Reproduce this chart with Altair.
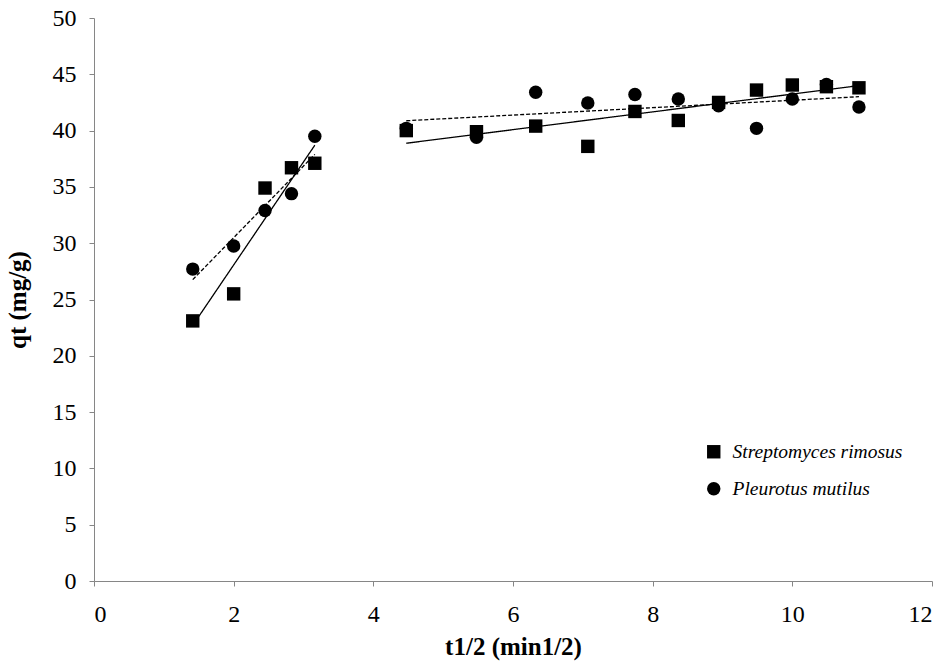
import altair as alt
import pandas as pd

# sqrt(t) values (min^1/2)
x_vals = [1.414, 2.0, 2.449, 2.828, 3.162, 4.472, 5.477, 6.325, 7.071, 7.746,
          8.367, 8.944, 9.487, 10.0, 10.488, 10.954]
phase = [1, 1, 1, 1, 1, 2, 2, 2, 2, 2, 2, 2, 2, 2, 2, 2]
strepto = [23.1, 25.5, 34.9, 36.7, 37.1, 40.0, 39.9, 40.4, 38.6, 41.7,
           40.9, 42.5, 43.6, 44.05, 43.9, 43.8]
pleuro = [27.7, 29.75, 32.9, 34.4, 39.5, 40.2, 39.4, 43.4, 42.45, 43.2,
          42.8, 42.2, 40.2, 42.8, 44.1, 42.1]
series_names = ["Streptomyces rimosus", "Pleurotus mutilus"]

rows = []
for name, vals in zip(series_names, [strepto, pleuro]):
    for x, p, y in zip(x_vals, phase, vals):
        rows.append({"x": x, "y": y, "series": name, "phase": p})
df = pd.DataFrame(rows)

FONT = "Liberation Serif"
axis_common = dict(
    grid=False, domainColor="#868686", tickColor="#868686", tickSize=5,
    labelFont=FONT, labelFontSize=24, labelColor="black",
    titleFont=FONT, titleFontSize=25, titleFontWeight="bold", titleColor="black",
)

xs = alt.X("x:Q", scale=alt.Scale(domain=[0, 12], nice=False),
           axis=alt.Axis(values=[0, 2, 4, 6, 8, 10, 12], format="d",
                         title="t1/2 (min1/2)", titlePadding=8, labelPadding=16,
                         **axis_common))
ys = alt.Y("y:Q", scale=alt.Scale(domain=[0, 50], nice=False),
           axis=alt.Axis(values=list(range(0, 51, 5)), format="d",
                         title="qt (mg/g)", titlePadding=22, labelPadding=13,
                         **axis_common))

points = alt.Chart(df).mark_point(filled=True, opacity=1, color="black", size=180).encode(
    x=xs, y=ys,
    shape=alt.Shape("series:N",
                    scale=alt.Scale(domain=series_names, range=["square", "circle"]),
                    legend=alt.Legend(title=None, orient="none", legendX=610, legendY=424,
                                      labelFont=FONT, labelFontSize=19.5, labelFontStyle="italic",
                                      labelColor="black", labelLimit=400,
                                      symbolFillColor="black",
                                      symbolStrokeColor="black", symbolSize=180,
                                      rowPadding=16, labelOffset=9, padding=0)),
)

lines = alt.Chart(df).transform_regression(
    "x", "y", groupby=["series", "phase"]
).transform_calculate(
    dashkey="datum.series"
).mark_line(color="black", strokeWidth=1.3).encode(
    x=xs, y=ys,
    detail="phase:N",
    strokeDash=alt.StrokeDash("dashkey:N",
                              scale=alt.Scale(domain=series_names, range=[[1, 0], [4, 2]]),
                              legend=None),
)

chart = alt.layer(lines, points).resolve_legend(
    shape="independent", strokeDash="independent"
).properties(
    width=838, height=563,
    autosize=alt.AutoSizeParams(type="none"),
    padding={"left": 94, "top": 18, "right": 16, "bottom": 86},
).configure_view(stroke=None).configure_axis(
    labelFont=FONT, labelFontSize=24, titleFont=FONT
)

chart.save("out.html", embed_options={"renderer": "svg", "actions": False})
